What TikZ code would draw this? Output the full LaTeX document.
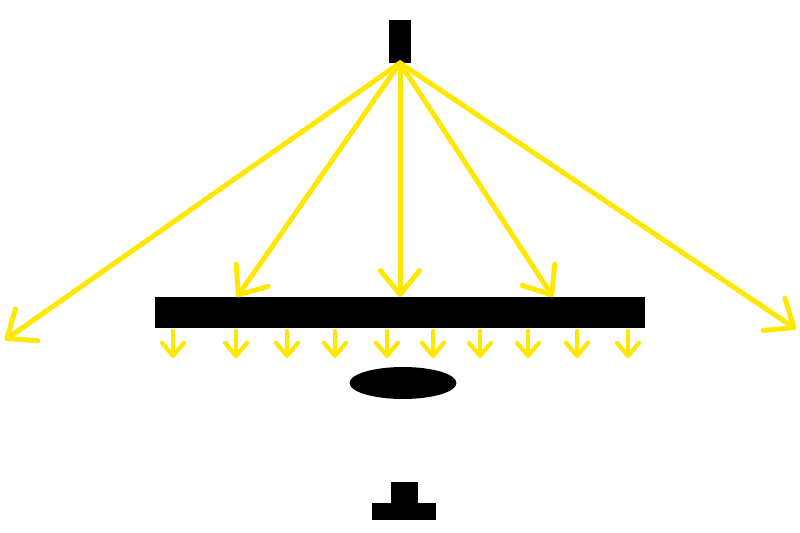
\documentclass[tikz,border=0pt]{standalone}
\usetikzlibrary{arrows.meta,positioning,shapes.geometric}
\definecolor{lampgeel}{RGB}{255,232,0}

\begin{document}
\begin{tikzpicture}[x=0.02cm,y=-0.02cm,
	straal/.style={draw=lampgeel, line width=0.1cm, line cap=round, -{Straight Barb[length=0.48cm,width=0.78cm,round]}},
	kortestraal/.style={draw=lampgeel, line width=0.085cm, line cap=round, -{Straight Barb[length=0.26cm,width=0.44cm,round]}},
	blok/.style={fill=black, inner sep=0pt, outer sep=0pt}]
		\useasboundingbox (0,0) rectangle (800,533);

		% Lichtbron
		\node[blok, minimum width=0.44cm, minimum height=0.86cm] (bron) at (400,41.5) {};

		% Balk (scherm)
		\node[blok, minimum width=9.8cm, minimum height=0.62cm] (balk) at (400,312.5) {};

		% Ellips en voet
		\node[blok, ellipse, minimum width=2.14cm, minimum height=0.64cm] (ellips) at (403,383) {};
		\node[blok, minimum width=1.28cm, minimum height=0.34cm] (voet) at (404,511.5) {};
		\node[blok, minimum width=0.54cm, minimum height=0.42cm, above=0pt of voet] (steel) {};

		% Eindpunten van de stralen
		\coordinate (eindL) at (5,340);
		\coordinate (eindR) at (796,329);
		\coordinate (balkL) at (237,297);
		\coordinate (balkM) at (400,297);
		\coordinate (balkR) at (553,297);

		% Stralen vanuit de bron
		\foreach \doel in {eindL,balkL,balkM,balkR,eindR}
			\draw[straal] (bron.south) -- (\doel);

		% Korte stralen onder de balk
		\foreach \x in {173,236,287,335,387,433,480,528,577,628}
			\draw[kortestraal] (balk.south -| \x,0) ++(0,3) -- ++(0,27);

	\end{tikzpicture}
\end{document}
